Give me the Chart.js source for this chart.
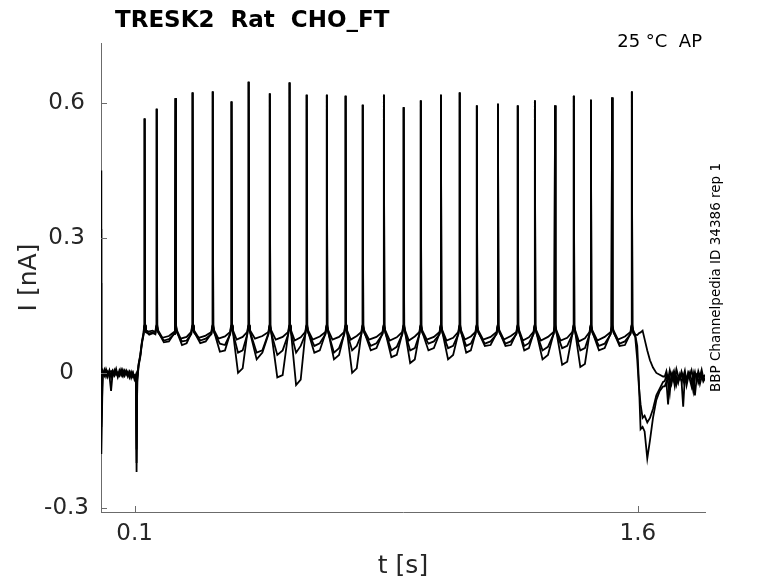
<!DOCTYPE html>
<html>
<head>
<meta charset="utf-8">
<title>TRESK2 Rat CHO_FT</title>
<script src="https://cdn.jsdelivr.net/npm/chart.js@4.4.1/dist/chart.umd.min.js"></script>
<style>
    html, body { margin: 0; padding: 0; background: #ffffff; }
</style>
</head>
<body>
<canvas id="traceChart" width="778" height="583"></canvas>
<script>
// AP clamp command: spike times [s] and peak currents [nA]
var spikeTimes = [0.130, 0.166, 0.222, 0.273, 0.333, 0.389, 0.440, 0.503, 0.562, 0.613, 0.673, 0.729, 0.780, 0.843,
                  0.902, 0.953, 1.013, 1.069, 1.120, 1.183, 1.242, 1.293, 1.353, 1.409, 1.460, 1.523, 1.582];
var spikePeaks = [0.565, 0.587, 0.610, 0.623, 0.625, 0.603, 0.647, 0.621, 0.645, 0.618, 0.618, 0.616, 0.596, 0.618,
                  0.590, 0.605, 0.618, 0.623, 0.594, 0.598, 0.594, 0.605, 0.594, 0.616, 0.607, 0.612, 0.625];

// holding segment before the step
var preTimes = [0, 0.001, 0.005, 0.01, 0.015, 0.02, 0.025, 0.03, 0.035, 0.04, 0.045, 0.05, 0.055, 0.06, 0.065,
                0.07, 0.075, 0.08, 0.085, 0.09, 0.095, 0.1, 0.104];
var preA = [0.45, -0.18, 0.004, -0.006, 0.008, -0.004, 0.006, -0.010, 0.005, -0.002, 0.009, -0.007, 0.003, -0.005,
            0.007, -0.003, 0.004, -0.008, 0.002, -0.006, 0.001, -0.012, -0.004];
var preB = [0.32, -0.12, -0.004, 0.007, -0.008, 0.003, -0.005, -0.040, 0.002, -0.006, 0.004, -0.009, 0.006, -0.002,
            -0.008, 0.005, -0.004, 0.003, -0.010, 0.002, -0.009, -0.005, -0.014];
var preC = [0.20, -0.08, 0.002, -0.003, 0.005, -0.009, 0.002, 0.004, -0.007, 0.006, -0.004, 0.001, -0.006, 0.008,
            -0.001, -0.007, 0.005, -0.005, 0.003, -0.011, 0.000, -0.015, -0.008];

// step onset transient
var stepTimes = [0.106, 0.108, 0.112, 0.117, 0.122, 0.127];
var stepA = [-0.22, -0.010, 0.020, 0.040, 0.070, 0.090];
var stepB = [-0.17, -0.020, 0.015, 0.035, 0.065, 0.085];
var stepC = [-0.20, -0.015, 0.018, 0.038, 0.068, 0.088];

// current next to each spike, lowest point between spikes, and level later in the interval
var plateauTop = [0.095, 0.090, 0.092];
var troughA = [0.092, 0.078, 0.076, 0.078, 0.076, 0.074, 0.076, 0.074, 0.072, 0.074, 0.074, 0.074, 0.074,
               0.072, 0.072, 0.074, 0.072, 0.074, 0.074, 0.074, 0.072, 0.072, 0.072, 0.070, 0.072, 0.074];
var troughB = [0.088, 0.072, 0.070, 0.072, 0.065, 0.045, 0.030, 0.040, 0.045, 0.060, 0.045, 0.050, 0.060,
               0.050, 0.050, 0.065, 0.055, 0.060, 0.065, 0.065, 0.060, 0.050, 0.055, 0.050, 0.060, 0.065];
var troughC = [0.085, 0.068, 0.062, 0.066, 0.047, 0.000, 0.045, -0.010, -0.027, 0.045, 0.030, 0.000, 0.050,
               0.035, 0.022, 0.050, 0.030, 0.045, 0.060, 0.060, 0.050, 0.030, 0.018, 0.013, 0.050, 0.060];
var midA = [0.094, 0.082, 0.080, 0.083, 0.081, 0.080, 0.082, 0.080, 0.079, 0.081, 0.080, 0.082, 0.080,
            0.079, 0.081, 0.080, 0.078, 0.081, 0.080, 0.082, 0.079, 0.080, 0.078, 0.077, 0.080, 0.081];
var midB = [0.090, 0.075, 0.072, 0.076, 0.062, 0.050, 0.045, 0.050, 0.060, 0.066, 0.055, 0.060, 0.066,
            0.058, 0.055, 0.070, 0.060, 0.065, 0.070, 0.070, 0.066, 0.058, 0.060, 0.055, 0.065, 0.070];
var midC = [0.088, 0.070, 0.066, 0.070, 0.050, 0.010, 0.050, -0.005, -0.015, 0.050, 0.040, 0.010, 0.055,
            0.040, 0.030, 0.055, 0.040, 0.050, 0.062, 0.062, 0.055, 0.040, 0.025, 0.020, 0.055, 0.062];

// step offset
var endTimes = [1.586, 1.592, 1.598, 1.603, 1.608, 1.614, 1.62, 1.628, 1.636, 1.645, 1.655, 1.665, 1.675];
var endA = [0.095, 0.085, 0.084, 0.088, 0.090, 0.094, 0.075, 0.050, 0.028, 0.012, 0.000, -0.004, -0.008];
var endB = [0.090, 0.085, 0.060, -0.020, -0.125, -0.120, -0.130, -0.190, -0.150, -0.100, -0.060, -0.040, -0.030];
var endC = [0.088, 0.080, 0.030, -0.030, -0.070, -0.100, -0.095, -0.110, -0.100, -0.080, -0.050, -0.035, -0.020];

// holding segment after the step
var postTimes = [1.68, 1.685, 1.69, 1.695, 1.7, 1.705, 1.71, 1.715, 1.72, 1.725, 1.73, 1.735, 1.74, 1.745, 1.75,
                 1.755, 1.76, 1.765, 1.77, 1.775, 1.78, 1.785, 1.79, 1.795, 1.8];
var postA = [-0.008, 0.004, -0.015, 0.006, -0.010, 0.002, -0.020, 0.008, -0.006, -0.014, 0.003, -0.009, 0.005,
             -0.018, 0.001, -0.007, 0.006, -0.012, 0.002, -0.016, 0.004, -0.008, 0.007, -0.011, -0.004];
var postB = [-0.030, -0.020, -0.070, -0.012, -0.025, -0.005, -0.030, -0.010, -0.022, -0.004, -0.018, -0.075, -0.008,
             -0.020, -0.002, -0.015, -0.030, -0.006, -0.050, -0.012, -0.001, -0.024, -0.009, -0.017, -0.010];
var postC = [-0.018, -0.006, -0.022, -0.045, -0.004, -0.016, 0.002, -0.025, -0.008, -0.013, -0.001, -0.020, -0.006,
             -0.028, -0.010, 0.001, -0.018, -0.040, -0.007, -0.003, -0.022, -0.011, -0.002, -0.019, -0.012];

var xTicks = [0.1, 1.6];
var yTicks = [-0.3, 0, 0.3, 0.6];

var axisColor = "#6b6b6b";
var textColor = "#262626";
var fontFamily = "'DejaVu Sans', 'Noto Sans', sans-serif";

function buildSweep(pre, step, top, troughs, mids, troughAt, end, post) {
    var pts = [];
    var i;
    for (i = 0; i < preTimes.length; i++)
        pts.push({x: preTimes[i], y: pre[i]});
    for (i = 0; i < stepTimes.length; i++)
        pts.push({x: stepTimes[i], y: step[i]});
    for (i = 0; i < spikeTimes.length; i++) {
        var t = spikeTimes[i];
        pts.push({x: t - 0.0015, y: top + 0.01});
        pts.push({x: t, y: spikePeaks[i]});
        pts.push({x: t + 0.0015, y: top + 0.012});
        if (i < troughs.length) {
            var d = spikeTimes[i + 1] - t;
            pts.push({x: t + 0.004, y: top});
            pts.push({x: t + troughAt * d, y: troughs[i]});
            pts.push({x: t + 0.65 * d, y: mids[i]});
            pts.push({x: spikeTimes[i + 1] - 0.004, y: top - 0.004});
        }
    }
    for (i = 0; i < endTimes.length; i++)
        pts.push({x: endTimes[i], y: end[i]});
    for (i = 0; i < postTimes.length; i++)
        pts.push({x: postTimes[i], y: post[i]});
    return pts;
}

function sweepDataset(pts) {
    return {data: pts, borderColor: "#000000", borderWidth: 1.8, pointRadius: 0, tension: 0, fill: false};
}

// inward tick marks and the free texts around the axes
var decorations = {
    id: "decorations",
    afterDraw: function (chart) {
        var ctx = chart.ctx, area = chart.chartArea;
        var xs = chart.scales.x, ys = chart.scales.y;
        ctx.save();
        ctx.strokeStyle = axisColor;
        ctx.lineWidth = 1;
        ctx.beginPath();
        xTicks.forEach(function (v) {
            var px = Math.round(xs.getPixelForValue(v)) + 0.5;
            ctx.moveTo(px, area.bottom);
            ctx.lineTo(px, area.bottom - 6);
        });
        yTicks.forEach(function (v) {
            var py = Math.round(ys.getPixelForValue(v)) + 0.5;
            ctx.moveTo(area.left, py);
            ctx.lineTo(area.left + 6, py);
        });
        ctx.stroke();

        ctx.fillStyle = "#000000";
        ctx.textBaseline = "alphabetic";
        ctx.textAlign = "left";
        ctx.font = "bold 23px " + fontFamily;
        ctx.fillText("TRESK2  Rat  CHO_FT", 115, 27);

        ctx.textAlign = "right";
        ctx.font = "18px " + fontFamily;
        ctx.fillText("25 \u00B0C  AP", 702, 47);

        ctx.translate(720, (area.top + area.bottom) / 2);
        ctx.rotate(-Math.PI / 2);
        ctx.textAlign = "center";
        ctx.font = "13.5px " + fontFamily;
        ctx.fillText("BBP Channelpedia ID 34386 rep 1", 0, 0);
        ctx.restore();
    }
};

var ctx = document.getElementById("traceChart").getContext("2d");
var traceChart = new Chart(ctx, {
    type: "line",
    data: {
        datasets: [
            sweepDataset(buildSweep(preA, stepA, plateauTop[0], troughA, midA, 0.3, endA, postA)),
            sweepDataset(buildSweep(preB, stepB, plateauTop[1], troughB, midB, 0.38, endB, postB)),
            sweepDataset(buildSweep(preC, stepC, plateauTop[2], troughC, midC, 0.38, endC, postC))
        ]
    },
    options: {
        responsive: false,
        animation: false,
        parsing: false,
        normalized: true,
        layout: {padding: {top: 43, right: 73, left: 0, bottom: 0}},
        plugins: {legend: {display: false}, tooltip: {enabled: false}, title: {display: false}},
        scales: {
            x: {
                type: "linear",
                min: 0,
                max: 1.8,
                afterBuildTicks: function (scale) {
                    scale.ticks = xTicks.map(function (v) { return {value: v}; });
                },
                afterFit: function (scale) { scale.height = 71; },
                grid: {display: false, drawTicks: false},
                border: {display: true, color: axisColor, width: 1},
                ticks: {
                    autoSkip: false, maxRotation: 0, padding: 8, color: textColor,
                    font: {family: fontFamily, size: 23},
                    callback: function (v) { return String(v); }
                },
                title: {
                    display: true, text: "t [s]", color: textColor,
                    font: {family: fontFamily, size: 25}, padding: {top: 0, bottom: 2}
                }
            },
            y: {
                type: "linear",
                min: -0.309,
                max: 0.733,
                afterBuildTicks: function (scale) {
                    scale.ticks = yTicks.map(function (v) { return {value: v}; });
                },
                afterFit: function (scale) { scale.width = 101; },
                grid: {display: false, drawTicks: false},
                border: {display: true, color: axisColor, width: 1},
                ticks: {
                    autoSkip: false, padding: 12, crossAlign: "center", color: textColor,
                    font: {family: fontFamily, size: 23},
                    callback: function (v) { return String(v); }
                },
                title: {
                    display: true, text: "I [nA]", color: textColor,
                    font: {family: fontFamily, size: 25}, padding: {top: 14, bottom: 0}
                }
            }
        }
    },
    plugins: [decorations]
});
</script>
</body>
</html>
